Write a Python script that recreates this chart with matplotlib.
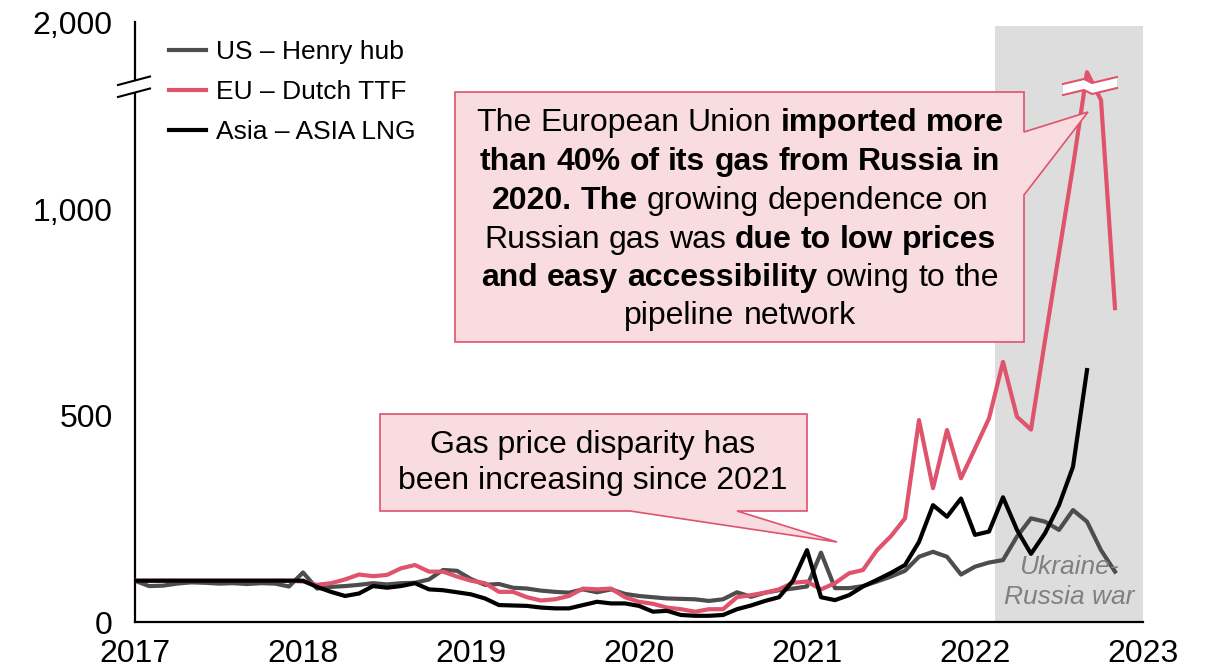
import numpy as np
import matplotlib.pyplot as plt
from matplotlib.patches import Polygon
from matplotlib.lines import Line2D

plt.rcParams['font.family'] = ['Liberation Sans', 'DejaVu Sans']

# monthly index values (Jan 2017 = 100)
us_henry_hub = [100, 87, 88, 93, 96, 95, 93, 94, 92, 94, 93, 86,
                120, 81, 85, 87, 90, 94, 91, 94, 95, 103, 126, 124,
                104, 90, 92, 83, 81, 76, 73, 71, 79, 72, 79, 68,
                63, 60, 57, 56, 55, 51, 55, 72, 61, 71, 77, 81,
                86, 168, 82, 82, 87, 98, 110, 124, 158, 170, 158, 115,
                134, 144, 150, 207, 251, 243, 223, 271, 243, 174, 122]
eu_dutch_ttf = [100, 100, 100, 100, 100, 100, 100, 100, 100, 100, 100, 100,
                98, 90, 94, 103, 115, 111, 114, 130, 138, 122, 122, 110,
                100, 94, 73, 73, 60, 52, 55, 63, 81, 79, 81, 60,
                49, 44, 35, 31, 25, 31, 31, 60, 65, 71, 79, 95,
                98, 79, 94, 118, 126, 174, 208, 251, 489, 324, 465, 348,
                420, 493, 630, 497, 466, 682, 893, 1104, 1515, 1264, 760]
asia_lng = [100, 100, 100, 100, 100, 100, 100, 100, 100, 100, 100, 100,
            100, 85, 73, 63, 69, 87, 83, 87, 94, 79, 77, 72,
            67, 57, 41, 40, 39, 35, 33, 33, 41, 49, 45, 45,
            39, 25, 27, 17, 15, 15, 17, 31, 40, 51, 60, 100,
            174, 60, 53, 65, 86, 102, 119, 138, 194, 283, 255, 299,
            211, 219, 302, 223, 165, 215, 283, 376, 610]

series_labels = ['US – Henry hub', 'EU – Dutch TTF', 'Asia – ASIA LNG']
year_ticks = [2017, 2018, 2019, 2020, 2021, 2022, 2023]
y_ticks = [0, 500, 1000, 2000]
y_tick_labels = ['0', '500', '1,000', '2,000']
war_start, war_end = 2022.12, 2023.0

W, H = 1206, 668
RED = '#DF536C'
PINK = '#F8DCE0'


def px(x, y):
    return x / W, 1 - y / H


# broken y axis: everything above 1270 is squeezed
BREAK, TOP_REAL, TOP_DISP = 1270.0, 2000.0, 1453.0
k = (TOP_DISP - BREAK) / (TOP_REAL - BREAK)


def fwd(v):
    v = np.asarray(v, dtype=float)
    return np.where(v <= BREAK, v, BREAK + (v - BREAK) * k)


def inv(d):
    d = np.asarray(d, dtype=float)
    return np.where(d <= BREAK, d, BREAK + (d - BREAK) / k)


fig = plt.figure(figsize=(W / 100, H / 100), dpi=100)
ax = fig.add_axes([135 / W, 46 / H, 1008 / W, 600 / H])
ax.set_yscale('function', functions=(fwd, inv))

x_us = 2017 + np.arange(len(us_henry_hub)) / 12
x_eu = 2017 + np.arange(len(eu_dutch_ttf)) / 12
x_as = 2017 + np.arange(len(asia_lng)) / 12

ax.axvspan(war_start, war_end, ymax=0.993, color='#DDDDDD', lw=0, zorder=0)
ax.plot(x_us, us_henry_hub, color='#4D4D4D', lw=3, label=series_labels[0], zorder=3)
ax.plot(x_eu, eu_dutch_ttf, color=RED, lw=3, label=series_labels[1], zorder=3)
ax.plot(x_as, asia_lng, color='black', lw=3, label=series_labels[2], zorder=3)

ax.set_xlim(2017, 2023)
ax.set_ylim(0, 2000)
ax.set_xticks(year_ticks)
ax.set_xticklabels([str(y) for y in year_ticks])
ax.set_yticks(y_ticks)
ax.set_yticklabels(y_tick_labels)
ax.tick_params(axis='both', length=0, labelsize=23)
ax.tick_params(axis='x', pad=12)
ax.tick_params(axis='y', pad=16)
for s in ['top', 'right']:
    ax.spines[s].set_visible(False)
for s in ['left', 'bottom']:
    ax.spines[s].set_linewidth(1.6)

ax.text(2022.56, 162, 'Ukraine-\nRussia war', style='italic', color='#808080',
        fontsize=19, ha='center', va='top', linespacing=1.3, zorder=4)

ax.legend(loc='upper left', bbox_to_anchor=(0.01, 1.01), frameon=False,
          fontsize=19, handlelength=1.4, handletextpad=0.4, labelspacing=0.62)

# axis break marks
fig.patches.append(Polygon([px(118, 85), px(150, 77), px(150, 88), px(118, 97)],
                           closed=True, transform=fig.transFigure, fc='white', ec='none', zorder=5))
for y0 in (85, 97):
    fig.lines.append(Line2D([118 / W, 150 / W], [1 - y0 / H, 1 - (y0 - 8.5) / H],
                            transform=fig.transFigure, color='black', lw=1.5, zorder=6))

# break on the EU line
top_edge = [(1063, 84), (1084, 79), (1092, 83), (1117, 77)]
bot_edge = [(1063, 95), (1084, 90), (1092, 94), (1117, 88)]
fig.patches.append(Polygon([px(*p) for p in top_edge + bot_edge[::-1]], closed=True,
                           transform=fig.transFigure, fc='white', ec='none', zorder=5))
for edge in (top_edge, bot_edge):
    fig.lines.append(Line2D([p[0] / W for p in edge], [1 - p[1] / H for p in edge],
                            transform=fig.transFigure, color=RED, lw=1.5, zorder=6))

# callouts
box1 = [(380, 414), (807, 414), (807, 511), (737, 511), (837, 542), (630, 511), (380, 511)]
box2 = [(455, 92), (1024, 92), (1024, 132), (1088, 112), (1024, 195), (1024, 342), (455, 342)]
for b in (box1, box2):
    fig.patches.append(Polygon([px(*p) for p in b], closed=True, transform=fig.transFigure,
                               fc=PINK, ec=RED, lw=1.2, zorder=7))

fig.text(*px(593, 463), 'Gas price disparity has\nbeen increasing since 2021',
         fontsize=23, ha='center', va='center', linespacing=1.3, zorder=8)

renderer = fig.canvas.get_renderer()


def rich_line(cx, cy, words, size=23):
    probe = fig.text(0, 0, 'a a', fontsize=size)
    probe2 = fig.text(0, 0, 'aa', fontsize=size)
    space = probe.get_window_extent(renderer).width - probe2.get_window_extent(renderer).width
    probe.remove()
    probe2.remove()
    items = []
    for w, bold in words:
        t = fig.text(0, 0, w, fontsize=size, fontweight='bold' if bold else 'normal',
                     ha='left', va='center', zorder=8)
        items.append((t, t.get_window_extent(renderer).width))
    total = sum(wd for _, wd in items) + space * (len(items) - 1)
    x = cx - total / 2
    for t, wd in items:
        t.set_position(px(x, cy))
        x += wd + space


lines = [
    [('The', 0), ('European', 0), ('Union', 0), ('imported', 1), ('more', 1)],
    [('than', 1), ('40%', 1), ('of', 1), ('its', 1), ('gas', 1), ('from', 1), ('Russia', 1), ('in', 1)],
    [('2020.', 1), ('The', 1), ('growing', 0), ('dependence', 0), ('on', 0)],
    [('Russian', 0), ('gas', 0), ('was', 0), ('due', 1), ('to', 1), ('low', 1), ('prices', 1)],
    [('and', 1), ('easy', 1), ('accessibility', 1), ('owing', 0), ('to', 0), ('the', 0)],
    [('pipeline', 0), ('network', 0)],
]
line_y = [123, 162, 201, 240, 278, 316]
for words, yy in zip(lines, line_y):
    rich_line(740, yy, words)

fig.savefig('out.png', dpi=100)
